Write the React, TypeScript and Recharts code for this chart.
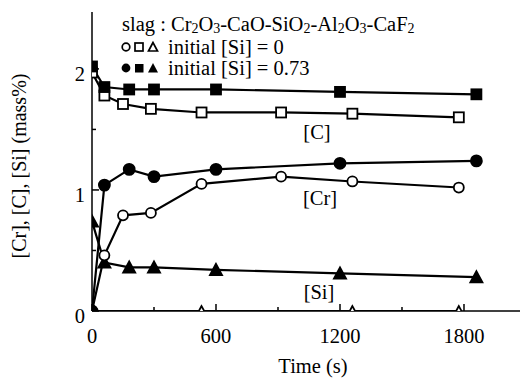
import React from 'react';
import { LineChart, Line, XAxis, YAxis, Customized } from 'recharts';

// initial [Si] = 0 (open symbols)
const timesOpen = [0, 60, 150, 285, 530, 915, 1260, 1775];
const carbonOpen = [1.97, 1.78, 1.71, 1.67, 1.64, 1.64, 1.63, 1.6];
const chromiumOpen = [0, 0.46, 0.79, 0.81, 1.05, 1.11, 1.07, 1.02];
const timesSiOpen = [0, 530, 1260, 1775];
const siliconOpen = [0, 0, 0, 0];

// initial [Si] = 0.73 (filled symbols)
const timesFilled = [0, 60, 180, 300, 600, 1200, 1860];
const carbonFilled = [2.02, 1.85, 1.83, 1.83, 1.83, 1.81, 1.79];
const chromiumFilled = [0, 1.04, 1.17, 1.11, 1.17, 1.22, 1.24];
const siliconFilled = [0.74, 0.4, 0.36, 0.36, 0.34, 0.31, 0.28];

const xTicks = [0, 300, 600, 900, 1200, 1500, 1800];
const xLabelTicks = [0, 600, 1200, 1800];
const yTicks = [0, 0.5, 1, 1.5, 2];
const yLabelTicks = [0, 1, 2];

const FONT = '"Liberation Serif", "Times New Roman", serif';

const zip = (ts: number[], vs: number[]) => ts.map((t, i) => ({ t, v: vs[i] }));

type Shape = 'circle' | 'square' | 'triangle';

const makeDot = (shape: Shape, filled: boolean, size = 5) => (props: any) => {
  const { cx, cy, index } = props;
  const fill = filled ? '#000' : '#fff';
  const common = { fill, stroke: '#000', strokeWidth: 1.8 };
  const key = `d-${shape}-${filled}-${index}`;
  if (cx == null || cy == null) return <g key={key} />;
  if (shape === 'circle') return <circle key={key} cx={cx} cy={cy} r={size} {...common} />;
  if (shape === 'square')
    return <rect key={key} x={cx - size} y={cy - size} width={size * 2} height={size * 2} {...common} />;
  const h = size * 1.1;
  return (
    <polygon
      key={key}
      points={`${cx},${cy - h} ${cx - h},${cy + h * 0.85} ${cx + h},${cy + h * 0.85}`}
      {...common}
    />
  );
};

const XTick = (props: any) => {
  const { x, y, payload } = props;
  const major = xLabelTicks.includes(payload.value);
  return (
    <g>
      <line x1={x} y1={y} x2={x} y2={y - (major ? 7 : 4)} stroke="#000" strokeWidth={1.5} />
      {major && (
        <text x={x} y={y + 32} textAnchor="middle" fontFamily={FONT} fontSize={20.5} fill="#000">
          {payload.value}
        </text>
      )}
    </g>
  );
};

const YTick = (props: any) => {
  const { x, y, payload } = props;
  const major = yLabelTicks.includes(payload.value);
  return (
    <g>
      <line x1={x} y1={y} x2={x + (major ? 7 : 4)} y2={y} stroke="#000" strokeWidth={1.5} />
      {major && (
        <text x={x - 7} y={y + 12} textAnchor="end" fontFamily={FONT} fontSize={20.5} fill="#000">
          {payload.value}
        </text>
      )}
    </g>
  );
};

const Annotations = () => (
  <g fontFamily={FONT} fill="#000">
    <text x={122} y={31} fontSize={20.5}>
      <tspan>slag : Cr</tspan>
      <tspan fontSize={14} dy={2}>2</tspan>
      <tspan dy={-2}>O</tspan>
      <tspan fontSize={14} dy={2}>3</tspan>
      <tspan dy={-2}>-CaO-SiO</tspan>
      <tspan fontSize={14} dy={2}>2</tspan>
      <tspan dy={-2}>-Al</tspan>
      <tspan fontSize={14} dy={2}>2</tspan>
      <tspan dy={-2}>O</tspan>
      <tspan fontSize={14} dy={2}>3</tspan>
      <tspan dy={-2}>-CaF</tspan>
      <tspan fontSize={14} dy={2}>2</tspan>
    </text>
    <circle cx={126} cy={47} r={3.8} fill="#fff" stroke="#000" strokeWidth={1.7} />
    <rect x={135} y={43} width={8} height={8} fill="#fff" stroke="#000" strokeWidth={1.7} />
    <polygon points="153,42.5 148.5,51 157.5,51" fill="#fff" stroke="#000" strokeWidth={1.7} />
    <text x={168} y={54} fontSize={20.5}>initial [Si] = 0</text>
    <circle cx={126} cy={68} r={4.4} fill="#000" />
    <rect x={135} y={64} width={8.5} height={8.5} fill="#000" />
    <polygon points="153,63 148,72.5 158,72.5" fill="#000" />
    <text x={168} y={75} fontSize={20.5}>initial [Si] = 0.73</text>

    <text x={317} y={139} fontSize={20.5} textAnchor="middle">[C]</text>
    <text x={320} y={205} fontSize={20.5} textAnchor="middle">[Cr]</text>
    <text x={319} y={299} fontSize={20.5} textAnchor="middle">[Si]</text>

    <text x={313} y={373} fontSize={20.5} textAnchor="middle">Time (s)</text>
    <text
      x={0}
      y={0}
      fontSize={20}
      textAnchor="middle"
      transform="translate(26,166) rotate(-90)"
    >
      [Cr], [C], [Si] (mass%)
    </text>
  </g>
);

export default function App() {
  return (
    <div style={{ position: 'absolute', left: 0, top: 0, width: 520, height: 378, background: '#fff' }}>
      <LineChart width={520} height={378} margin={{ top: 12, right: 0, bottom: 0, left: 0 }}>
        <XAxis
          xAxisId="top"
          orientation="top"
          type="number"
          dataKey="t"
          domain={[0, 2071]}
          height={0}
          tick={false}
          tickLine={false}
          axisLine={{ stroke: '#000', strokeWidth: 1.5 }}
        />
        <XAxis
          type="number"
          dataKey="t"
          domain={[0, 2071]}
          ticks={xTicks}
          height={67}
          tickSize={0}
          tickMargin={0}
          tickLine={false}
          tick={XTick}
          axisLine={{ stroke: '#000', strokeWidth: 1.5 }}
          allowDataOverflow
        />
        <YAxis
          type="number"
          domain={[0, 2.47]}
          ticks={yTicks}
          width={92}
          tickSize={0}
          tickMargin={0}
          tickLine={false}
          tick={YTick}
          axisLine={{ stroke: '#000', strokeWidth: 1.5 }}
          allowDataOverflow
        />
        <Line data={zip(timesSiOpen, siliconOpen)} dataKey="v" stroke="#000" strokeWidth={2.2} dot={makeDot('triangle', false, 4.5)} isAnimationActive={false} />
        <Line data={zip(timesFilled, siliconFilled)} dataKey="v" stroke="#000" strokeWidth={2.2} dot={makeDot('triangle', true, 5.5)} isAnimationActive={false} />
        <Line data={zip(timesOpen, chromiumOpen)} dataKey="v" stroke="#000" strokeWidth={2.2} dot={makeDot('circle', false, 5)} isAnimationActive={false} />
        <Line data={zip(timesFilled, chromiumFilled)} dataKey="v" stroke="#000" strokeWidth={2.2} dot={makeDot('circle', true, 5.5)} isAnimationActive={false} />
        <Line data={zip(timesOpen, carbonOpen)} dataKey="v" stroke="#000" strokeWidth={2.2} dot={makeDot('square', false, 5)} isAnimationActive={false} />
        <Line data={zip(timesFilled, carbonFilled)} dataKey="v" stroke="#000" strokeWidth={2.2} dot={makeDot('square', true, 5)} isAnimationActive={false} />
        <Customized component={Annotations} />
      </LineChart>
    </div>
  );
}
